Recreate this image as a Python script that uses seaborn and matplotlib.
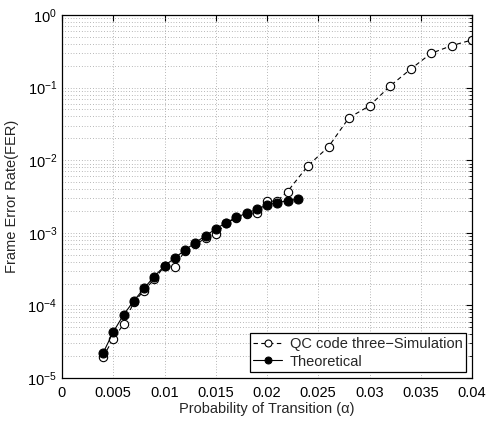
import numpy as np
import pandas as pd
import seaborn as sns
import matplotlib
matplotlib.use("Agg")
import matplotlib.pyplot as plt
from matplotlib.ticker import LogLocator, FixedLocator, NullFormatter

sns.set_style("white")
plt.rcParams['font.family'] = ['Liberation Sans', 'DejaVu Sans']
plt.rcParams['mathtext.fontset'] = 'custom'
plt.rcParams['mathtext.rm'] = 'Liberation Sans'
plt.rcParams['mathtext.it'] = 'Liberation Sans'

sim_x = [0.004, 0.005, 0.006, 0.007, 0.008, 0.009, 0.010, 0.011, 0.012, 0.013,
         0.014, 0.015, 0.016, 0.017, 0.018, 0.019, 0.020, 0.021, 0.022,
         0.024, 0.026, 0.028, 0.030, 0.032, 0.034, 0.036, 0.038, 0.040]
sim_y = [1.95e-5, 3.45e-5, 5.5e-5, 1.1e-4, 1.6e-4, 2.3e-4, 3.45e-4, 3.4e-4, 5.7e-4, 6.9e-4,
         8.4e-4, 9.6e-4, 1.35e-3, 1.6e-3, 1.82e-3, 1.9e-3, 2.7e-3, 2.75e-3, 3.7e-3,
         8.4e-3, 1.53e-2, 3.85e-2, 5.6e-2, 0.105, 0.179, 0.296, 0.378, 0.453]

th_x = [0.004, 0.005, 0.006, 0.007, 0.008, 0.009, 0.010, 0.011, 0.012, 0.013,
        0.014, 0.015, 0.016, 0.017, 0.018, 0.019, 0.020, 0.021, 0.022, 0.023]
th_y = [2.2e-5, 4.3e-5, 7.4e-5, 1.15e-4, 1.72e-4, 2.5e-4, 3.5e-4, 4.5e-4, 5.8e-4, 7.3e-4,
        9.1e-4, 1.13e-3, 1.38e-3, 1.63e-3, 1.86e-3, 2.1e-3, 2.42e-3, 2.6e-3, 2.77e-3, 2.9e-3]

x_ticks = [0, 0.005, 0.01, 0.015, 0.02, 0.025, 0.03, 0.035, 0.04]
x_tick_labels = ['0', '0.005', '0.01', '0.015', '0.02', '0.025', '0.03', '0.035', '0.04']

sim_df = pd.DataFrame({'x': sim_x, 'y': sim_y})
th_df = pd.DataFrame({'x': th_x, 'y': th_y})

fig = plt.figure(figsize=(4.87, 4.21), dpi=100)
ax = fig.add_axes([62/487, 1-378/421, (472-62)/487, (378-15)/421])

sns.lineplot(data=sim_df, x='x', y='y', ax=ax, color='black', linestyle=(0, (4, 3)),
             linewidth=0.8, marker='o', markersize=6, markerfacecolor='white',
             markeredgecolor='black', markeredgewidth=0.8,
             label='QC code three\u2212Simulation')
sns.lineplot(data=th_df, x='x', y='y', ax=ax, color='black', linestyle='-',
             linewidth=0.8, marker='o', markersize=6.5, markerfacecolor='black',
             markeredgecolor='black', label='Theoretical')

ax.set_yscale('log')
ax.set_xlim(0, 0.04)
ax.set_ylim(1e-5, 1)
ax.xaxis.set_major_locator(FixedLocator(x_ticks))
ax.set_xticklabels(x_tick_labels)
ax.yaxis.set_major_locator(LogLocator(base=10, numticks=10))
ax.yaxis.set_minor_locator(LogLocator(base=10, subs=np.arange(2, 10), numticks=20))
ax.yaxis.set_minor_formatter(NullFormatter())

ax.grid(True, which='major', axis='both', linestyle=(0, (1, 3)), color='#777777', linewidth=0.5)
ax.grid(True, which='minor', axis='y', linestyle=(0, (1, 3)), color='#777777', linewidth=0.5)

ax.tick_params(axis='both', which='both', direction='in', top=True, right=True,
               labelsize=10.5, colors='black')
ax.tick_params(axis='both', which='major', length=4, width=0.8)
ax.tick_params(axis='x', which='major', pad=6)
ax.tick_params(axis='y', which='minor', length=2, width=0.6)
for s in ax.spines.values():
    s.set_color('black')
    s.set_linewidth(0.9)

ax.set_xlabel('Probability of Transition (\u03b1)', fontsize=10.5, labelpad=1)
ax.set_ylabel('Frame Error Rate(FER)', fontsize=10.5, labelpad=6)

leg = ax.legend(loc='lower right', fontsize=10.5, frameon=True, fancybox=False,
                edgecolor='black', framealpha=1, borderaxespad=0.4,
                handlelength=2.0, handletextpad=0.5, borderpad=0.25, labelspacing=0.25)
leg.get_frame().set_linewidth(0.9)
for h in leg.legend_handles:
    h.set_markersize(5)

fig.savefig('out.png', dpi=100)
